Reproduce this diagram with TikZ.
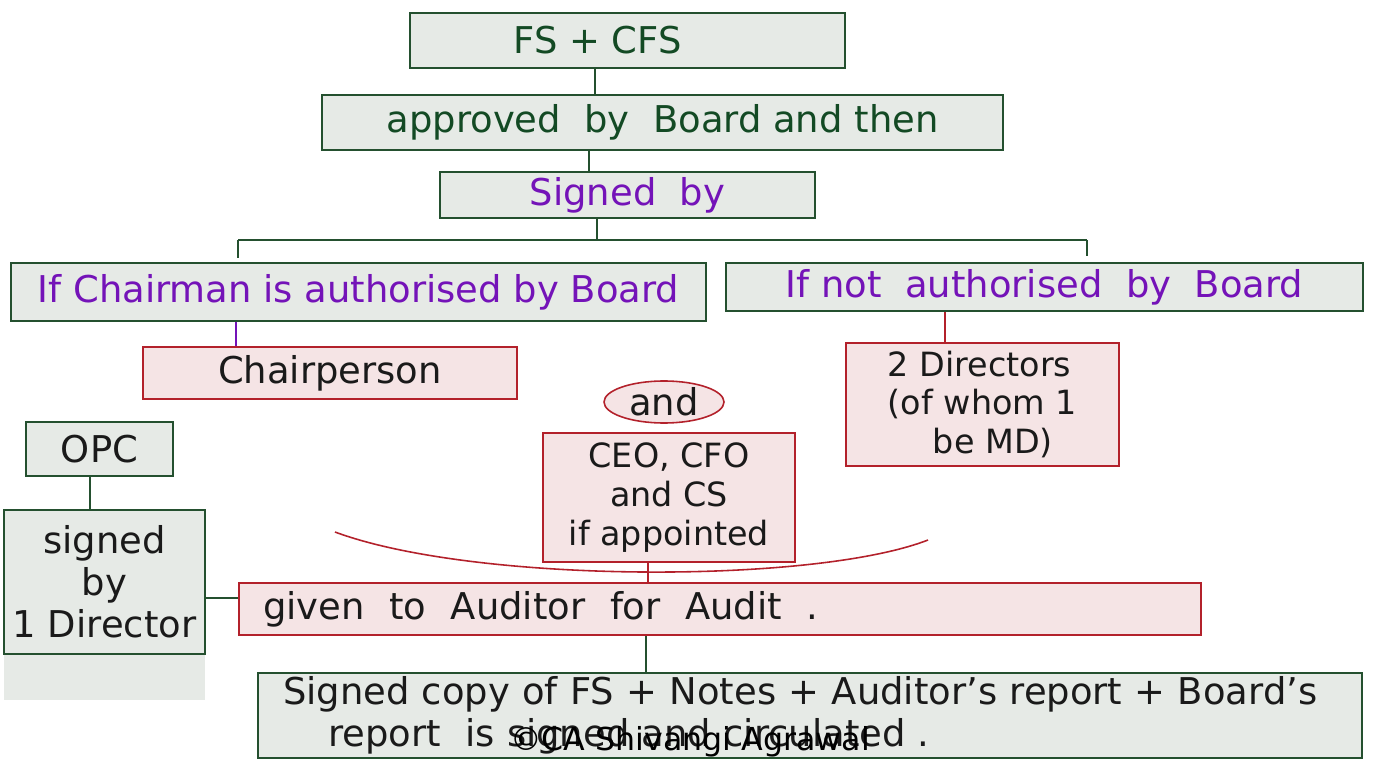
\documentclass[tikz,border=0pt]{standalone}
\usepackage{fontspec}
\setmainfont{DejaVu Sans}
\usetikzlibrary{shapes.geometric}
\definecolor{boxgreen}{HTML}{24502F}
\definecolor{boxgray}{HTML}{E6EAE6}
\definecolor{boxred}{HTML}{B3212B}
\definecolor{boxpink}{HTML}{F5E4E5}
\definecolor{inkgreen}{HTML}{134A24}
\definecolor{inkpurple}{HTML}{7413B8}
\definecolor{ink}{HTML}{1A1A1A}
\begin{document}
\begin{tikzpicture}[font=\fontsize{21}{24}\selectfont,
    grbox/.style={draw=boxgreen,fill=boxgray,line width=0.9pt,align=center,inner sep=0pt},
    pkbox/.style={draw=boxred,fill=boxpink,line width=0.9pt,align=center,inner sep=0pt,text=ink},
    gline/.style={boxgreen,line width=0.6pt},
    rline/.style={boxred,line width=0.6pt}]
    \useasboundingbox (0,0) rectangle (27.5,-15.3);
    \node[grbox,text=inkgreen,minimum width=8.7cm,minimum height=1.1cm] (fs) at (12.55,-0.81) {FS + CFS\hspace*{1.2cm}};
    \node[grbox,text=inkgreen,minimum width=13.62cm,minimum height=1.1cm] (appr) at (13.25,-2.45) {approved\ \ by\ \ Board and then};
    \node[grbox,text=inkpurple,minimum width=7.5cm,minimum height=0.92cm] (sign) at (12.55,-3.9) {Signed\ \ by};
    \node[grbox,text=inkpurple,minimum width=13.9cm,minimum height=1.16cm] (chairif) at (7.17,-5.84) {If Chairman is authorised by Board};
    \node[grbox,text=inkpurple,minimum width=12.74cm,minimum height=0.96cm] (notif) at (20.89,-5.74) {If not\ \ authorised\ \ by\ \ Board};
    \node[pkbox,minimum width=7.48cm,minimum height=1.04cm] (chair) at (6.6,-7.46) {Chairperson};
    \node[pkbox,align=left,font=\fontsize{19}{22}\selectfont,minimum width=5.46cm,minimum height=2.46cm] (dirs) at (19.65,-8.09) {2 Directors\\(of whom 1\\\hspace*{0.9cm}be MD)};
    \node[pkbox,ellipse,minimum width=2.4cm,minimum height=0.84cm] (conj) at (13.28,-8.04) {and};
    \node[pkbox,font=\fontsize{19}{22}\selectfont,minimum width=5.04cm,minimum height=2.58cm] (ceo) at (13.38,-9.95) {CEO, CFO\\and CS\\if appointed};
    \node[grbox,text=ink,minimum width=2.94cm,minimum height=1.08cm] (opc) at (1.99,-8.98) {OPC};
    \fill[boxgray] (0.08,-13.08) rectangle (4.1,-14.0);
    \node[grbox,text=ink,minimum width=4.02cm,minimum height=2.88cm] (onedir) at (2.09,-11.64) {signed\\by\\1 Director};
    \node[pkbox,align=left,text width=18.28cm,inner xsep=0.48cm,minimum height=1.04cm] (audit) at (14.4,-12.18) {given\ \ to\ \ Auditor\ \ for\ \ Audit\ \ .};
    \node[grbox,text=ink,align=left,text width=21.08cm,inner xsep=0.5cm,minimum height=1.7cm] (final) at (16.2,-14.31) {Signed copy of FS + Notes + Auditor's report + Board's\\\hspace*{0.9cm}report\ \ is signed and circulated .};
    \node[text=black,font=\fontsize{18}{22}\selectfont] (mark) at (13.8,-14.84) {©CA Shivangi Agrawal};
    \coordinate (brl) at (4.76,-4.8);
    \coordinate (brr) at (21.74,-4.8);
    \coordinate (arcl) at (6.7,-10.64);
    \coordinate (arcr) at (18.56,-10.8);
    \draw[gline] (fs.south -| 11.9,0) -- (appr.north -| 11.9,0);
    \draw[gline] (appr.south -| 11.78,0) -- (sign.north -| 11.78,0);
    \draw[gline] (sign.south -| 11.94,0) -- (brl -| 11.94,0);
    \draw[gline] (brl) -- (brr);
    \draw[gline] (brl) -- ++(0,-0.36);
    \draw[gline] (brr) -- ++(0,-0.32);
    \draw[inkpurple,line width=0.6pt] (chairif.south -| 4.72,0) -- (chair.north -| 4.72,0);
    \draw[rline] (notif.south -| 18.9,0) -- (dirs.north -| 18.9,0);
    \draw[gline] (opc.south -| 1.8,0) -- (onedir.north -| 1.8,0);
    \draw[gline] (onedir.east |- 0,-11.96) -- (audit.west |- 0,-11.96);
    \draw[rline] (ceo.south -| 12.96,0) -- (audit.north -| 12.96,0);
    \draw[rline,line width=0.9pt] (arcl) .. controls (9.5,-11.68) and (16.3,-11.68) .. (arcr);
    \draw[gline] (audit.south -| 12.92,0) -- (final.north -| 12.92,0);
\end{tikzpicture}
\end{document}
